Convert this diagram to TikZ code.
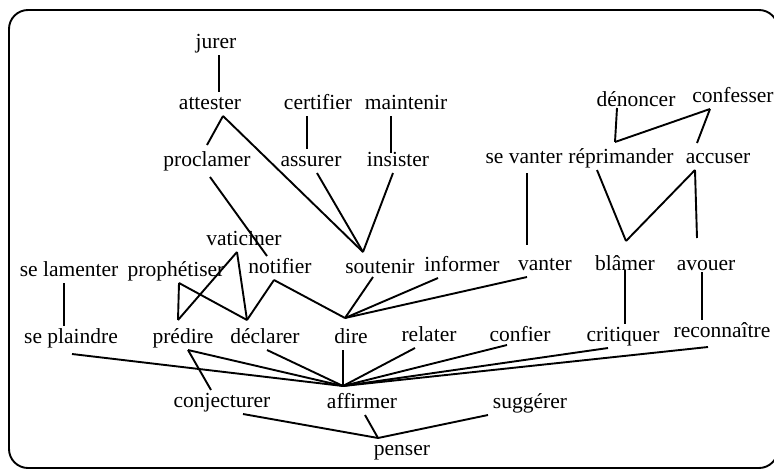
\documentclass[tikz,border=0pt]{standalone}
\usepackage{fontspec}
\setmainfont{Liberation Serif}
\begin{document}
\begin{tikzpicture}[x=1pt,y=-1pt,
  w/.style={inner sep=0pt, outer xsep=0pt, outer ysep=3pt, text height=14pt, text depth=4pt, font=\fontsize{21.5}{24}\selectfont},
  link/.style={line width=1.9pt},
  frame/.style={line width=1.9pt, rounded corners=19pt}]
\useasboundingbox (0,0) rectangle (774,472);
\clip (0,0) rectangle (774,472);
\draw[frame] (9,10) rectangle (778,468);
% nodes
\node[w] (jurer) at (216,43) {jurer};
\node[w] (attester) at (210,104) {attester};
\node[w] (certifier) at (318,104) {certifier};
\node[w] (maintenir) at (406,104) {maintenir};
\node[w] (proclamer) at (207,161) {proclamer};
\node[w] (assurer) at (311,161) {assurer};
\node[w] (insister) at (398,161) {insister};
\node[w] (denoncer) at (636,101) {dénoncer};
\node[w] (confesser) at (733,97) {confesser};
\node[w] (sevanter) at (524,158) {se vanter};
\node[w] (reprimander) at (621,158) {réprimander};
\node[w] (accuser) at (718,158) {accuser};
\node[w] (vaticiner) at (244,240) {vaticiner};
\node[w] (selamenter) at (69,271) {se lamenter};
\node[w] (prophetiser) at (176,271) {prophétiser};
\node[w] (notifier) at (280,268) {notifier};
\node[w] (soutenir) at (380,268) {soutenir};
\node[w] (informer) at (462,266) {informer};
\node[w] (vanter) at (545,265) {vanter};
\node[w] (blamer) at (625,265) {blâmer};
\node[w] (avouer) at (706,265) {avouer};
\node[w] (seplaindre) at (71,338) {se plaindre};
\node[w] (predire) at (183,338) {prédire};
\node[w] (declarer) at (265,338) {déclarer};
\node[w] (dire) at (351,338) {dire};
\node[w] (relater) at (429,336) {relater};
\node[w] (confier) at (520,336) {confier};
\node[w] (critiquer) at (623,336) {critiquer};
\node[w] (reconnaitre) at (722,332) {reconnaître};
\node[w] (conjecturer) at (222,402) {conjecturer};
\node[w] (affirmer) at (362,403) {affirmer};
\node[w] (suggerer) at (530,403) {suggérer};
\node[w] (penser) at (402,450) {penser};
% connectors
\draw[link] ([xshift=3pt]jurer.south) -- ([xshift=9pt]attester.north);
\draw[link] ([xshift=13pt]attester.south) -- ([yshift=4pt]proclamer.north);
\draw[link] ([xshift=13pt]attester.south) -- ([xshift=-17pt,yshift=4pt]soutenir.north);
\draw[link] ([xshift=-11pt]certifier.south) -- ([xshift=-4pt]assurer.north);
\draw[link] ([xshift=-15pt]maintenir.south) -- ([xshift=-7pt,yshift=-4pt]insister.north);
\draw[link] ([xshift=6pt]assurer.south) -- ([xshift=-17pt,yshift=4pt]soutenir.north);
\draw[link] ([xshift=-5pt]insister.south) -- ([xshift=-17pt,yshift=4pt]soutenir.north);
\draw[link] ([xshift=3pt,yshift=-4pt]proclamer.south) -- ([xshift=-13pt]notifier.north);
\draw[link] ([xshift=-19pt,yshift=5pt]denoncer.south) -- ([xshift=-6pt,yshift=4pt]reprimander.north);
\draw[link] ([xshift=-23pt]confesser.south) -- ([xshift=-6pt,yshift=4pt]reprimander.north);
\draw[link] ([xshift=-23pt]confesser.south) -- ([xshift=-21pt,yshift=3pt]accuser.north);
\draw[link] ([xshift=3pt,yshift=-3pt]sevanter.south) -- ([xshift=-18pt,yshift=8pt]vanter.north);
\draw[link] ([xshift=-24pt]reprimander.south) -- ([xshift=1pt,yshift=12pt]blamer.north);
\draw[link] ([xshift=-23pt]accuser.south) -- ([xshift=1pt,yshift=12pt]blamer.north);
\draw[link] ([xshift=-23pt]accuser.south) -- ([xshift=-9pt,yshift=15pt]avouer.north);
\draw[link] ([xshift=-7pt]vaticiner.south) -- ([xshift=-5pt,yshift=6pt]predire.north);
\draw[link] ([xshift=-7pt]vaticiner.south) -- ([xshift=-18pt,yshift=6pt]declarer.north);
\draw[link] ([xshift=3pt]prophetiser.south) -- ([xshift=-5pt,yshift=6pt]predire.north);
\draw[link] ([xshift=3pt]prophetiser.south) -- ([xshift=-18pt,yshift=6pt]declarer.north);
\draw[link] ([xshift=-6pt]notifier.south) -- ([xshift=-18pt,yshift=6pt]declarer.north);
\draw[link] ([xshift=-6pt]notifier.south) -- ([xshift=-6pt,yshift=8pt]dire.north);
\draw[link] ([xshift=-7pt,yshift=3pt]soutenir.south) -- ([xshift=-6pt,yshift=8pt]dire.north);
\draw[link] ([xshift=-24pt]informer.south) -- ([xshift=-6pt,yshift=8pt]dire.north);
\draw[link] ([xshift=-18pt]vanter.south) -- ([xshift=-6pt,yshift=8pt]dire.north);
\draw[link] ([xshift=-5pt]selamenter.south) -- ([xshift=-7pt]seplaindre.north);
\draw[link] ([yshift=7pt]blamer.south) -- ([xshift=2pt]critiquer.north);
\draw[link] ([xshift=-4pt,yshift=5pt]avouer.south) -- ([xshift=-20pt]reconnaitre.north);
\draw[link] ([xshift=1pt,yshift=-4pt]seplaindre.south) -- ([xshift=-19pt,yshift=5pt]affirmer.north);
\draw[link] ([xshift=5pt]predire.south) -- ([xshift=-19pt,yshift=5pt]affirmer.north);
\draw[link] ([xshift=2pt]declarer.south) -- ([xshift=-19pt,yshift=5pt]affirmer.north);
\draw[link] ([xshift=-8pt]dire.south) -- ([xshift=-19pt,yshift=5pt]affirmer.north);
\draw[link] ([xshift=-14pt]relater.south) -- ([xshift=-19pt,yshift=5pt]affirmer.north);
\draw[link] ([xshift=-13pt,yshift=3pt]confier.south) -- ([xshift=-19pt,yshift=5pt]affirmer.north);
\draw[link] ([xshift=-15pt]critiquer.south) -- ([xshift=-19pt,yshift=5pt]affirmer.north);
\draw[link] ([xshift=-14pt,yshift=-3pt]reconnaitre.south) -- ([xshift=-19pt,yshift=5pt]affirmer.north);
\draw[link] ([xshift=5pt]predire.south) -- ([xshift=-11pt]conjecturer.north);
\draw[link] ([xshift=21pt]conjecturer.south) -- ([xshift=-24pt]penser.north);
\draw[link] ([xshift=3pt]affirmer.south) -- ([xshift=-24pt]penser.north);
\draw[link] ([xshift=-42pt]suggerer.south) -- ([xshift=-24pt]penser.north);
\end{tikzpicture}
\end{document}
